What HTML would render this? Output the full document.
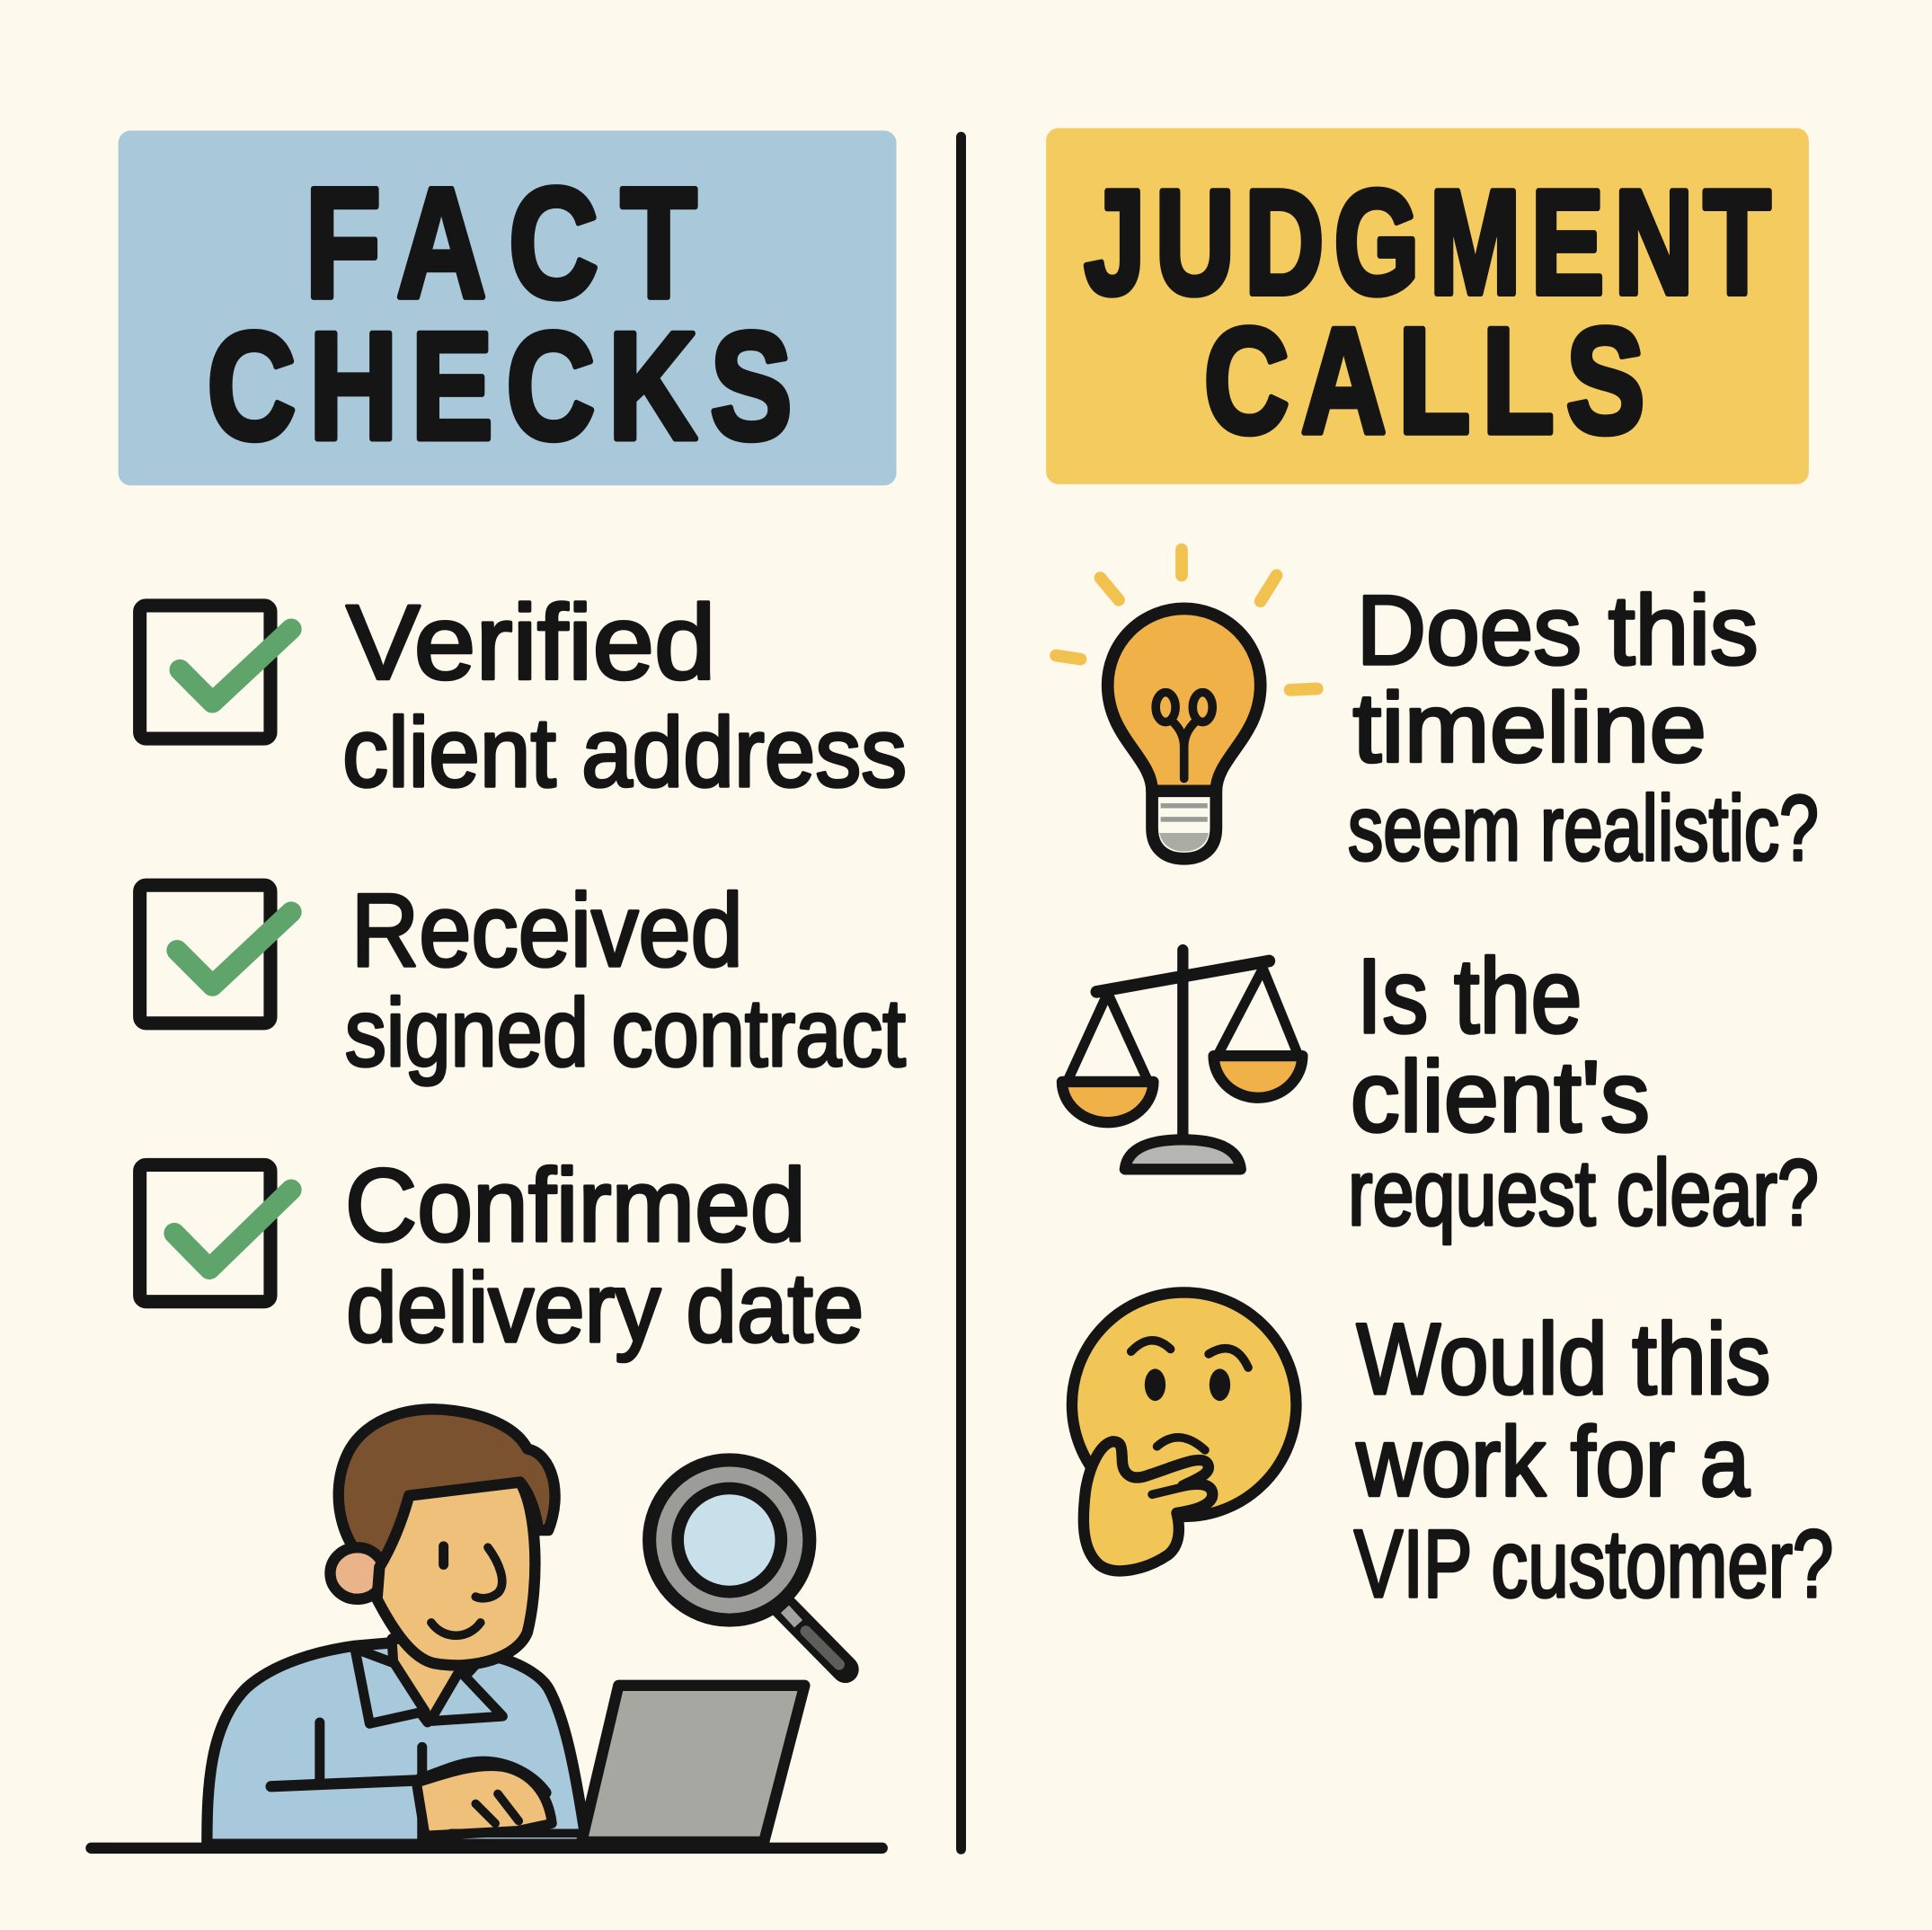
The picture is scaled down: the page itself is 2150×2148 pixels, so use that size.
<!DOCTYPE html>
<html>
<head>
<meta charset="utf-8">
<style>
  html, body { margin: 0; padding: 0; background: #FDF9EC; }
  body { width: 2150px; height: 2148px; overflow: hidden; }
  svg { display: block; }
  .h { font-family: "Liberation Sans", Arial, sans-serif; font-weight: bold; fill: #151515; stroke: #151515; stroke-width: 4; stroke-linejoin: round; }
  .t { font-family: "Liberation Sans", Arial, sans-serif; font-weight: normal; fill: #151515; stroke: #151515; stroke-width: 2.6; stroke-linejoin: round; }
</style>
</head>
<body>
<svg width="2150" height="2148" viewBox="0 0 1568 1566.5" preserveAspectRatio="none" xmlns="http://www.w3.org/2000/svg">
  <rect x="0" y="0" width="1568" height="1566.5" fill="#FDF9EC"/>

  <!-- Header boxes -->
  <rect x="96" y="106" width="631.5" height="288" rx="10" fill="#A9C8D9"/>
  <rect x="849" y="104" width="619" height="289" rx="10" fill="#F4CB5E"/>

  <text class="h" transform="translate(247.5,241) scale(1,1.26)" x="0" y="0" font-size="101" textLength="318" lengthAdjust="spacing">FACT</text>
  <text class="h" transform="translate(168,356) scale(1,1.24)" x="0" y="0" font-size="100" textLength="475" lengthAdjust="spacing">CHECKS</text>
  <text class="h" transform="translate(880,238) scale(1,1.35)" x="0" y="0" font-size="89" textLength="557" lengthAdjust="spacing">JUDGMENT</text>
  <text class="h" transform="translate(977,351) scale(1,1.27)" x="0" y="0" font-size="96" textLength="358" lengthAdjust="spacing">CALLS</text>

  <!-- Divider -->
  <line x1="780" y1="111" x2="780" y2="1501" stroke="#151515" stroke-width="8" stroke-linecap="round"/>

  <!-- Checkboxes -->
  <g fill="none" stroke="#151515" stroke-width="11" stroke-linejoin="round">
    <rect x="113.5" y="491.5" width="106" height="108" rx="5"/>
    <rect x="113.5" y="718.5" width="106" height="112" rx="5"/>
    <rect x="113.5" y="945.5" width="106" height="111" rx="5"/>
  </g>
  <g fill="none" stroke="#5FA46A" stroke-width="17" stroke-linecap="round" stroke-linejoin="round">
    <polyline points="146,543.7 172.4,570.2 236.3,510.6"/>
    <polyline points="143.7,771.4 172.4,800.1 236.3,740.3"/>
    <polyline points="141.5,1001 170,1030 236.3,965.7"/>
  </g>

  <!-- Left texts -->
  <text class="t" x="281" y="551" font-size="86" textLength="300" lengthAdjust="spacingAndGlyphs">Verified</text>
  <text class="t" x="278" y="638" font-size="80" textLength="458" lengthAdjust="spacingAndGlyphs">client address</text>
  <text class="t" x="285" y="784" font-size="84" textLength="318" lengthAdjust="spacingAndGlyphs">Received</text>
  <text class="t" x="280" y="865" font-size="78" textLength="455" lengthAdjust="spacingAndGlyphs">signed contract</text>
  <text class="t" x="280" y="1007" font-size="84" textLength="374" lengthAdjust="spacingAndGlyphs">Confirmed</text>
  <text class="t" x="281" y="1089" font-size="80" textLength="420" lengthAdjust="spacingAndGlyphs">delivery date</text>

  <!-- Right texts -->
  <text class="t" x="1101" y="539" font-size="80" textLength="326" lengthAdjust="spacingAndGlyphs">Does this</text>
  <text class="t" x="1098" y="618" font-size="80" textLength="287" lengthAdjust="spacingAndGlyphs">timeline</text>
  <text class="t" x="1094" y="698" font-size="75" textLength="382" lengthAdjust="spacingAndGlyphs">seem realistic?</text>
  <text class="t" x="1101" y="838" font-size="86" textLength="183" lengthAdjust="spacingAndGlyphs">Is the</text>
  <text class="t" x="1096" y="918" font-size="82" textLength="243" lengthAdjust="spacingAndGlyphs">client's</text>
  <text class="t" x="1094" y="994" font-size="76" textLength="382" lengthAdjust="spacingAndGlyphs">request clear?</text>
  <text class="t" x="1101" y="1131" font-size="82" textLength="336" lengthAdjust="spacingAndGlyphs">Would this</text>
  <text class="t" x="1101" y="1214" font-size="80" textLength="319" lengthAdjust="spacingAndGlyphs">work for a</text>
  <text class="t" x="1099" y="1296" font-size="78" textLength="389" lengthAdjust="spacingAndGlyphs">VIP customer?</text>

  <!-- Light bulb -->
  <g stroke="#F2C250" stroke-width="10" stroke-linecap="round" fill="none">
    <line x1="959" y1="446" x2="959" y2="467"/>
    <line x1="893" y1="469" x2="908" y2="487"/>
    <line x1="1036" y1="467" x2="1023" y2="488"/>
    <line x1="857" y1="532" x2="877" y2="535"/>
    <line x1="1047" y1="560" x2="1069" y2="559"/>
  </g>
  <path d="M 935 642 C 935 615 899 598 899 556 A 62 62 0 0 1 1023 556 C 1023 598 987 615 987 642 Z" fill="#F0B248" stroke="#151515" stroke-width="10" stroke-linejoin="round"/>
  <path d="M 935 642 L 987 642 L 987 672 C 987 690 975 697 961 697 C 947 697 935 690 935 672 Z" fill="#FDF9EC" stroke="#151515" stroke-width="10" stroke-linejoin="round"/>
  <line x1="942" y1="654" x2="980" y2="654" stroke="#9A9A96" stroke-width="4"/>
  <line x1="942" y1="665" x2="980" y2="665" stroke="#9A9A96" stroke-width="4"/>
  <path d="M 941 676 L 981 676 C 979 686 971 691 961 691 C 951 691 943 686 941 676 Z" fill="#ABABA6"/>
  <g fill="none" stroke="#151515" stroke-width="7" stroke-linecap="round" stroke-linejoin="round">
    <ellipse cx="946" cy="574" rx="8" ry="12"/>
    <ellipse cx="976" cy="574" rx="8" ry="12"/>
    <path d="M 951 585 Q 961 594 961 606 M 971 585 Q 961 594 961 606 L 961 632"/>
  </g>

  <!-- Scales -->
  <g stroke="#151515" stroke-linecap="round" stroke-linejoin="round">
    <line x1="960" y1="771" x2="960" y2="930" stroke-width="9"/>
    <line x1="890" y1="805" x2="1030" y2="780" stroke-width="10"/>
    <path d="M 899 806 L 867 876 M 899 806 L 931 876 M 1025 786 L 989 855 M 1025 786 L 1053 855" fill="none" stroke-width="8"/>
    <path d="M 862 878 L 936 878 A 37 33 0 0 1 862 878 Z" fill="#F0B248" stroke-width="9"/>
    <path d="M 985 857 L 1057 857 A 36 34 0 0 1 985 857 Z" fill="#F0B248" stroke-width="9"/>
    <path d="M 913 949 C 915 931 935 925 960 925 C 985 925 1005 931 1007 949 Z" fill="#B5B5B1" stroke-width="9"/>
  </g>

  <!-- Thinking face -->
  <circle cx="961" cy="1140" r="91" fill="#F1C556" stroke="#151515" stroke-width="9"/>
  <ellipse cx="937.5" cy="1124" rx="8.5" ry="13" fill="#151515"/>
  <ellipse cx="990" cy="1124" rx="8.5" ry="13" fill="#151515"/>
  <g fill="none" stroke="#151515" stroke-width="7" stroke-linecap="round">
    <path d="M 918 1097 Q 934 1080 950 1095"/>
    <path d="M 981 1099 Q 1002 1086 1013 1110"/>
    <path d="M 939 1174 Q 957 1158 978 1177"/>
  </g>
  <path d="M 903 1170 C 893 1172 884 1190 881 1210 C 878 1235 878 1258 892 1270 C 905 1280 930 1274 948 1262 C 958 1254 958 1240 955 1228 C 968 1226 985 1222 984 1212 C 983 1203 970 1204 960 1206 C 972 1200 984 1196 980 1188 C 975 1180 955 1190 930 1198 C 918 1202 912 1196 911 1188 C 910 1178 912 1170 903 1170 Z" fill="#F1C556" stroke="#151515" stroke-width="9" stroke-linejoin="round"/>
  <path d="M 935 1213 L 960 1207" fill="none" stroke="#151515" stroke-width="7" stroke-linecap="round"/>

  <!-- Person -->
  <g stroke="#151515" stroke-linejoin="round" stroke-linecap="round">
    <!-- body -->
    <path d="M 168 1497 C 168 1450 170 1400 200 1370 C 222 1350 258 1340 287 1336 L 322 1333 L 398 1344 C 420 1348 440 1360 446 1372 C 458 1395 466 1430 476 1497 Z" fill="#A8C8DC" stroke-width="9"/>
    <!-- neck -->
    <path d="M 318 1330 L 398 1338 L 378 1360 L 347 1398 L 320 1362 Z" fill="#EEC07A" stroke-width="8"/>
    <!-- collar -->
    <path d="M 288 1338 L 300 1399 L 345 1389 L 320 1350 Z" fill="#A8C8DC" stroke-width="8"/>
    <path d="M 373 1356 L 408 1393 L 349 1397 Z" fill="#A8C8DC" stroke-width="8"/>
    <!-- shirt lines -->
    <path d="M 259.5 1398 L 259.5 1447" fill="none" stroke-width="8"/>
    <path d="M 342.6 1418 L 342.6 1495" fill="none" stroke-width="8"/>
    <path d="M 220 1450 L 338 1445 C 355 1440 372 1430 392 1430 C 412 1430 432 1440 443 1455" fill="none" stroke-width="9"/>
    <!-- hand -->
    <path d="M 338 1447 C 360 1440 385 1431 408 1434 C 430 1438 445 1455 448 1480 L 420 1486 L 345 1490 Z" fill="#EEC07A" stroke-width="8"/>
    <path d="M 386 1464 L 402 1480 M 404 1456 L 421 1478" fill="none" stroke-width="7"/>
    <line x1="366" y1="1488" x2="472" y2="1488" stroke-width="7"/>
    <!-- hair -->
    <path d="M 308 1274 C 280 1264 264 1215 283 1178 C 298 1150 335 1140 368 1145 C 398 1149 420 1160 428 1176 C 448 1180 457 1212 445 1242 L 437 1242 C 434 1222 428 1210 422 1203 L 332 1214 C 326 1236 318 1257 308 1274 Z" fill="#7A5230" stroke-width="9"/>
    <!-- ear -->
    <ellipse cx="290" cy="1277" rx="22" ry="21" fill="#EBB38A" stroke-width="9"/>
    <!-- face -->
    <path d="M 332 1214 L 422 1203 C 436 1225 438 1285 428 1325 C 420 1345 385 1356 352 1350 C 335 1346 320 1325 306 1298 L 308 1272 C 318 1255 326 1236 332 1214 Z" fill="#EEC07A" stroke-width="9"/>
    <path d="M 360 1255 L 360 1270" fill="none" stroke-width="8"/>
    <path d="M 396 1256 C 405 1268 412 1285 404 1293 C 398 1298 390 1298 386 1296" fill="none" stroke-width="7"/>
    <path d="M 350 1317 C 360 1331 380 1331 390 1317" fill="none" stroke-width="7"/>
    <!-- laptop -->
    <polygon points="502,1368 653,1368 620,1495 472,1495" fill="#A7A7A2" stroke-width="9"/>
    <!-- magnifier -->
    <line x1="630" y1="1298" x2="686" y2="1355" stroke-width="22"/>
    <line x1="637" y1="1306" x2="648" y2="1318" stroke="#A3A3A0" stroke-width="9" stroke-linecap="butt"/>
    <line x1="654" y1="1324" x2="681" y2="1351" stroke="#5E5E5A" stroke-width="9"/>
    <circle cx="592" cy="1250" r="65" fill="#9C9C99" stroke-width="11"/>
    <circle cx="592" cy="1250" r="42" fill="#C7E0EA" stroke-width="10"/>
  </g>

  <!-- Desk -->
  <line x1="74" y1="1500" x2="716" y2="1500" stroke="#151515" stroke-width="9" stroke-linecap="round"/>
</svg>
</body>
</html>
